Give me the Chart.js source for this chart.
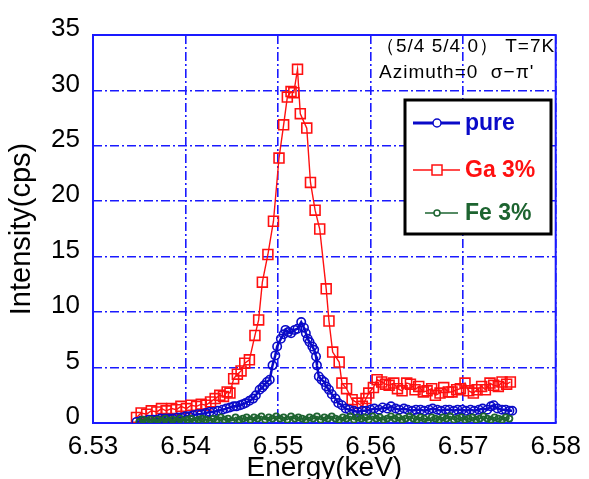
<!DOCTYPE html>
<html>
<head>
<meta charset="utf-8">
<script src="https://cdn.jsdelivr.net/npm/chart.js@4/dist/chart.umd.min.js"></script>
<style>
  html, body { margin: 0; padding: 0; background: #fff; }
  #wrap { width: 589px; height: 479px; }
</style>
</head>
<body>
<div id="wrap"><canvas id="spectrum" width="589" height="479"></canvas></div>
<script>
// Axis ticks
const xTicks = [6.53, 6.54, 6.55, 6.56, 6.57, 6.58];
const yTicks = [0, 5, 10, 15, 20, 25, 30, 35];

// pure
const pureEnergy = [
  6.5347, 6.5352, 6.5356, 6.5360, 6.5365, 6.5369, 6.5373, 6.5378, 6.5382, 6.5386,
  6.5391, 6.5395, 6.5400, 6.5404, 6.5408, 6.5413, 6.5417, 6.5422, 6.5426, 6.5430,
  6.5435, 6.5440, 6.5444, 6.5448, 6.5452, 6.5455, 6.5459, 6.5462, 6.5465, 6.5469,
  6.5473, 6.5476, 6.5480, 6.5483, 6.5485, 6.5488, 6.5491, 6.5494, 6.5497, 6.5499,
  6.5503, 6.5506, 6.5508, 6.5511, 6.5514, 6.5518, 6.5521, 6.5525, 6.5528, 6.5530,
  6.5532, 6.5534, 6.5537, 6.5539, 6.5541, 6.5542, 6.5544, 6.5547, 6.5550, 6.5552,
  6.5555, 6.5558, 6.5562, 6.5565, 6.5569, 6.5573, 6.5577, 6.5582, 6.5586, 6.5591,
  6.5595, 6.5600, 6.5604, 6.5609, 6.5613, 6.5618, 6.5622, 6.5627, 6.5631, 6.5636,
  6.5640, 6.5645, 6.5649, 6.5654, 6.5658, 6.5663, 6.5667, 6.5672, 6.5676, 6.5681,
  6.5685, 6.5690, 6.5694, 6.5699, 6.5703, 6.5708, 6.5712, 6.5717, 6.5721, 6.5726,
  6.5730, 6.5733, 6.5737, 6.5742, 6.5746, 6.5750, 6.5753
];
const pureCps = [
  0.1, 0.2, 0.2, 0.3, 0.3, 0.3, 0.4, 0.4, 0.4, 0.4,
  0.5, 0.5, 0.6, 0.6, 0.7, 0.8, 0.8, 0.9, 1.0, 1.0,
  1.1, 1.2, 1.3, 1.4, 1.5, 1.5, 1.6, 1.7, 1.8, 2.0,
  2.2, 2.5, 3.0, 3.2, 3.4, 3.7, 3.9, 5.2, 6.1, 6.9,
  7.6, 8.0, 8.4, 8.2, 8.1, 8.4, 8.5, 9.1, 8.6, 8.1,
  7.6, 7.3, 6.9, 6.6, 6.0, 5.2, 4.2, 3.9, 3.7, 3.3,
  3.0, 2.6, 2.2, 1.8, 1.6, 1.3, 1.2, 1.1, 1.0, 1.1,
  1.1, 1.2, 1.3, 1.2, 1.4, 1.3, 1.5, 1.3, 1.2, 1.3,
  1.2, 1.1, 1.2, 1.2, 1.1, 1.2, 1.3, 1.2, 1.1, 1.2,
  1.2, 1.1, 1.2, 1.2, 1.1, 1.2, 1.1, 1.2, 1.3, 1.2,
  1.5, 1.6, 1.3, 1.2, 1.2, 1.1, 1.1
];

// Ga 3%
const gaEnergy = [
  6.5347, 6.5352, 6.5358, 6.5363, 6.5369, 6.5374, 6.5379, 6.5385, 6.5390, 6.5395,
  6.5401, 6.5406, 6.5412, 6.5417, 6.5422, 6.5427, 6.5432, 6.5437, 6.5441, 6.5445,
  6.5448, 6.5452, 6.5456, 6.5460, 6.5464, 6.5469, 6.5475, 6.5479, 6.5483, 6.5489,
  6.5495, 6.5501, 6.5506, 6.5510, 6.5514, 6.5517, 6.5521, 6.5524, 6.5531, 6.5535,
  6.5540, 6.5545, 6.5552, 6.5555, 6.5559, 6.5566, 6.5569, 6.5574, 6.5580, 6.5586,
  6.5591, 6.5595, 6.5598, 6.5603, 6.5607, 6.5612, 6.5616, 6.5620, 6.5625, 6.5629,
  6.5634, 6.5639, 6.5643, 6.5648, 6.5652, 6.5657, 6.5661, 6.5666, 6.5670, 6.5675,
  6.5679, 6.5684, 6.5688, 6.5693, 6.5697, 6.5702, 6.5706, 6.5711, 6.5715, 6.5720,
  6.5724, 6.5729, 6.5733, 6.5738, 6.5742, 6.5747, 6.5751
];
const gaCps = [
  0.5, 0.9, 0.8, 1.1, 1.0, 1.3, 1.1, 1.3, 1.2, 1.5,
  1.3, 1.6, 1.5, 1.7, 1.6, 1.9, 2.2, 2.5, 2.4, 2.8,
  2.7, 4.0, 4.4, 4.7, 5.4, 5.7, 7.9, 9.3, 12.7, 15.2,
  18.2, 23.9, 26.9, 29.4, 29.9, 29.8, 31.9, 27.9, 26.6, 21.7,
  19.2, 17.5, 12.1, 9.2, 6.4, 5.5, 3.6, 3.1, 2.1, 1.8,
  1.5, 2.2, 2.7, 3.2, 3.9, 3.7, 3.5, 3.4, 3.6, 3.1,
  2.9, 3.6, 3.5, 3.0, 3.3, 2.8, 2.9, 3.1, 2.5, 2.7,
  3.2, 2.8, 2.8, 3.0, 3.1, 3.6, 2.9, 2.7, 3.0, 3.3,
  3.0, 3.6, 3.4, 3.3, 3.7, 3.5, 3.7
];

// Fe 3%
const feEnergy = [
  6.5350, 6.5354, 6.5358, 6.5362, 6.5366, 6.5370, 6.5374, 6.5378, 6.5382, 6.5386,
  6.5390, 6.5394, 6.5398, 6.5402, 6.5406, 6.5410, 6.5414, 6.5418, 6.5422, 6.5426,
  6.5430, 6.5434, 6.5438, 6.5442, 6.5446, 6.5450, 6.5454, 6.5458, 6.5462, 6.5466,
  6.5470, 6.5474, 6.5478, 6.5482, 6.5486, 6.5490, 6.5494, 6.5498, 6.5502, 6.5506,
  6.5510, 6.5514, 6.5518, 6.5522, 6.5526, 6.5530, 6.5534, 6.5538, 6.5542, 6.5546,
  6.5550, 6.5554, 6.5558, 6.5562, 6.5566, 6.5570, 6.5574, 6.5578, 6.5582, 6.5586,
  6.5590, 6.5594, 6.5598, 6.5602, 6.5606, 6.5610, 6.5614, 6.5618, 6.5622, 6.5626,
  6.5630, 6.5634, 6.5638, 6.5642, 6.5646, 6.5650, 6.5654, 6.5658, 6.5662, 6.5666,
  6.5670, 6.5674, 6.5678, 6.5682, 6.5686, 6.5690, 6.5694, 6.5698, 6.5702, 6.5706,
  6.5710, 6.5714, 6.5718, 6.5722, 6.5726, 6.5730, 6.5734, 6.5738, 6.5742, 6.5746,
  6.5750
];
const feCps = [
  0.1, 0.3, 0.2, 0.3, 0.1, 0.3, 0.2, 0.4, 0.2, 0.3,
  0.2, 0.4, 0.2, 0.3, 0.4, 0.2, 0.3, 0.4, 0.3, 0.2,
  0.4, 0.3, 0.5, 0.3, 0.4, 0.2, 0.5, 0.3, 0.4, 0.5,
  0.3, 0.5, 0.4, 0.6, 0.3, 0.5, 0.4, 0.6, 0.4, 0.5,
  0.3, 0.6, 0.4, 0.5, 0.4, 0.3, 0.5, 0.4, 0.6, 0.3,
  0.5, 0.4, 0.6, 0.4, 0.3, 0.5, 0.4, 0.6, 0.3, 0.5,
  0.4, 0.5, 0.3, 0.6, 0.4, 0.5, 0.3, 0.4, 0.6, 0.4,
  0.5, 0.3, 0.4, 0.6, 0.4, 0.3, 0.5, 0.4, 0.2, 0.5,
  0.4, 0.3, 0.5, 0.4, 0.6, 0.3, 0.4, 0.5, 0.3, 0.4,
  0.5, 0.3, 0.4, 0.6, 0.4, 0.3, 0.5, 0.4, 0.3, 0.5,
  0.4
];

const noteLines = ['（5/4 5/4 0） T=7K', 'Azimuth=0  σ−π\''];

const BLUE = '#0a0ac8';
const RED = '#ff1010';
const GREEN = '#1d6430';
const GRID = '#1a1aff';
const FONT = "'Liberation Sans', Arial, sans-serif";

function toPoints(xs, ys) {
  return xs.map((x, i) => ({ x: x, y: ys[i] }));
}

// Solid blue frame round the plot area
const frame = {
  id: 'frame',
  beforeDatasetsDraw(chart) {
    const { ctx, chartArea: a } = chart;
    ctx.save();
    ctx.strokeStyle = GRID;
    ctx.lineWidth = 2;
    ctx.strokeRect(a.left, a.top, a.right - a.left, a.bottom - a.top);
    ctx.restore();
  }
};

// Boxed legend and the measurement note
const legendBox = {
  id: 'legendBox',
  afterDraw(chart) {
    const ctx = chart.ctx;
    ctx.save();

    ctx.fillStyle = '#000';
    ctx.font = '19px ' + FONT;
    ctx.textBaseline = 'middle';
    ctx.textAlign = 'left';
    ctx.letterSpacing = '1px';
    ctx.fillText(noteLines[0], 376, 47);
    ctx.fillText(noteLines[1], 379, 73);
    ctx.letterSpacing = '0px';

    ctx.fillStyle = '#fff';
    ctx.fillRect(405, 100, 146, 134);
    ctx.strokeStyle = '#000';
    ctx.lineWidth = 3;
    ctx.strokeRect(405, 100, 146, 134);

    const rows = [123, 170, 213];
    chart.data.datasets.forEach((ds, i) => {
      const y = rows[i];
      ctx.strokeStyle = ds.borderColor;
      ctx.lineWidth = i === 0 ? 3 : 1.5;
      ctx.beginPath();
      if (i === 2) { ctx.moveTo(425, y); ctx.lineTo(458, y); }
      else { ctx.moveTo(413, y); ctx.lineTo(460, y); }
      ctx.stroke();
      ctx.lineWidth = 1.5;
      ctx.fillStyle = '#fff';
      ctx.beginPath();
      if (i === 1) {
        ctx.rect(432, y - 5, 10, 10);
      } else {
        ctx.arc(437, y, i === 0 ? 4 : 3, 0, Math.PI * 2);
      }
      ctx.fill();
      ctx.stroke();
      ctx.fillStyle = ds.borderColor;
      ctx.font = 'bold 23px ' + FONT;
      ctx.fillText(ds.label, 465, y + 1);
    });
    ctx.restore();
  }
};

new Chart(document.getElementById('spectrum'), {
  type: 'scatter',
  data: {
    datasets: [
      {
        label: 'pure',
        data: toPoints(pureEnergy, pureCps),
        showLine: true,
        borderColor: BLUE,
        borderWidth: 2.5,
        pointStyle: 'circle',
        pointRadius: 4.2,
        pointBorderWidth: 1.6,
        pointBackgroundColor: 'rgba(0,0,0,0)',
        order: 1
      },
      {
        label: 'Ga 3%',
        data: toPoints(gaEnergy, gaCps),
        showLine: true,
        borderColor: RED,
        borderWidth: 1.4,
        pointStyle: 'rect',
        pointRadius: 7,
        pointBorderWidth: 1.6,
        pointBackgroundColor: 'rgba(0,0,0,0)',
        order: 2
      },
      {
        label: 'Fe 3%',
        data: toPoints(feEnergy, feCps),
        showLine: true,
        borderColor: GREEN,
        borderWidth: 1.5,
        pointStyle: 'circle',
        pointRadius: 3,
        pointBorderWidth: 1.8,
        pointBackgroundColor: 'rgba(0,0,0,0)',
        order: 0
      }
    ]
  },
  options: {
    responsive: false,
    animation: false,
    layout: { padding: { top: 35, right: 32, left: 0, bottom: 0 } },
    plugins: {
      legend: { display: false },
      tooltip: { enabled: false }
    },
    scales: {
      x: {
        type: 'linear',
        min: xTicks[0],
        max: xTicks[xTicks.length - 1],
        afterBuildTicks: s => { s.ticks = xTicks.map(v => ({ value: v })); },
        afterFit: s => { s.height = 56; },
        grid: { color: GRID, lineWidth: 1.6, drawTicks: false },
        border: { display: false, dash: [9, 3, 2, 3] },
        ticks: {
          padding: 8,
          color: '#000',
          font: { family: FONT, size: 26 },
          callback: v => v.toFixed(2)
        },
        title: {
          display: true,
          text: 'Energy(keV)',
          color: '#000',
          font: { family: FONT, size: 28, lineHeight: 0.8 },
          padding: 0
        }
      },
      y: {
        min: yTicks[0],
        max: yTicks[yTicks.length - 1],
        afterBuildTicks: s => { s.ticks = yTicks.map(v => ({ value: v })); },
        afterFit: s => { s.width = 93; },
        grid: { color: GRID, lineWidth: 1.6, drawTicks: false },
        border: { display: false, dash: [9, 3, 2, 3] },
        ticks: {
          padding: 13,
          labelOffset: -6,
          color: '#000',
          font: { family: FONT, size: 26 }
        },
        title: {
          display: true,
          text: 'Intensity(cps)',
          color: '#000',
          font: { family: FONT, size: 29 },
          padding: { top: 5, bottom: 0 }
        }
      }
    }
  },
  plugins: [frame, legendBox]
});
</script>
</body>
</html>
